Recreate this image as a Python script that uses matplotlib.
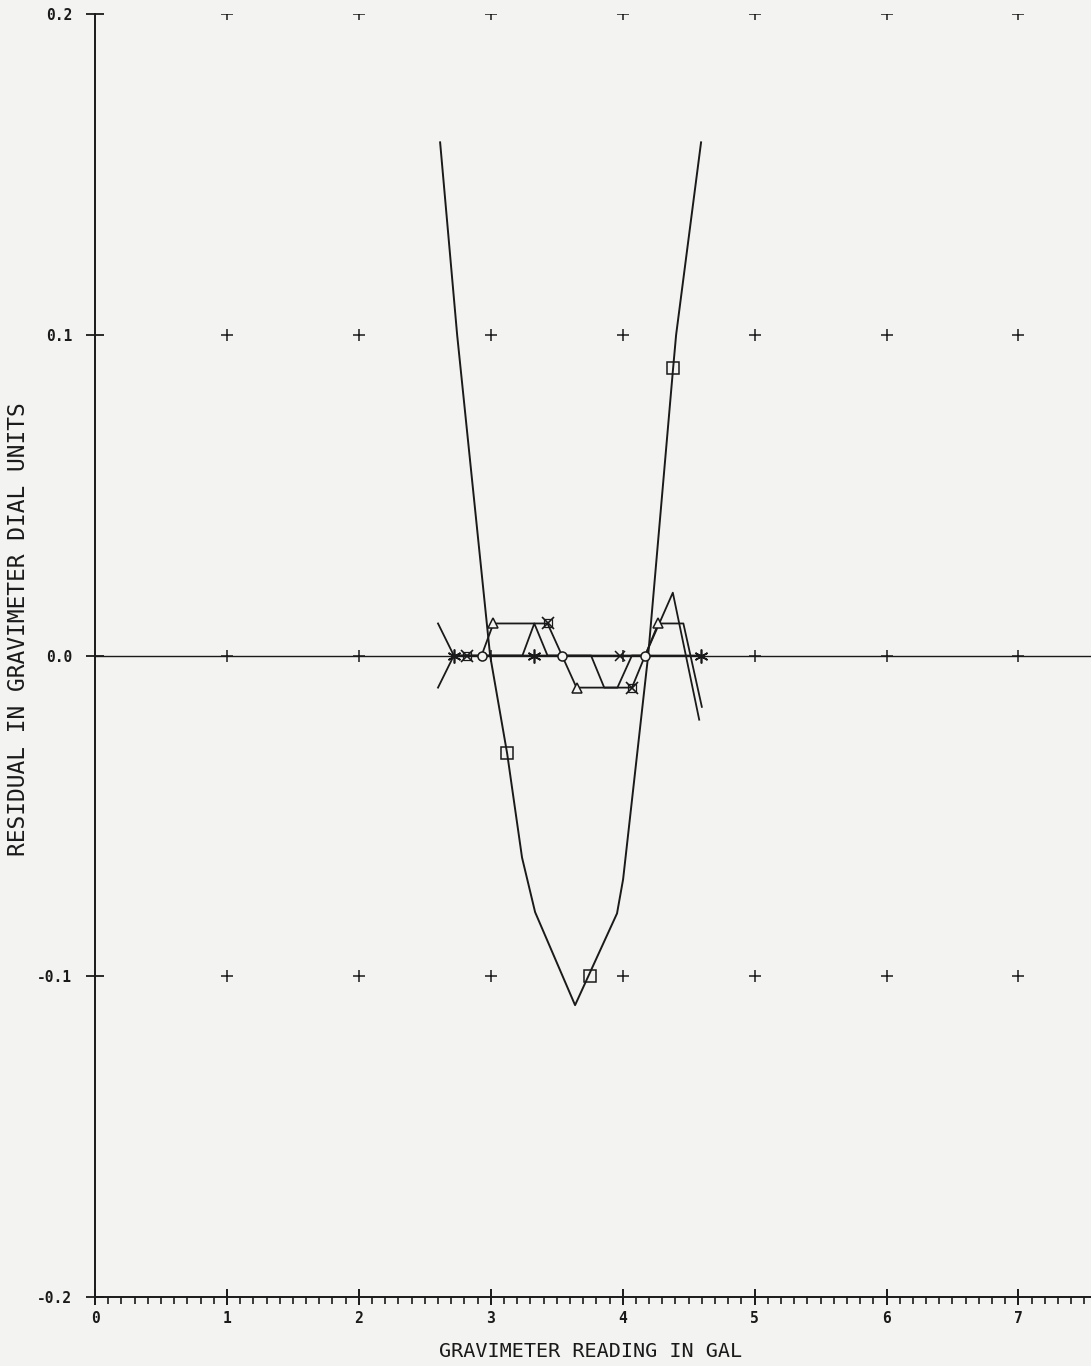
import numpy as np
import matplotlib
matplotlib.use('Agg')
from matplotlib import pyplot as plt

# residual curve (large parabola, square markers)
par_x = [2.616, 2.745, 2.995, 3.124, 3.237, 3.336, 3.639, 3.957, 4.003, 4.193, 4.382, 4.405, 4.594]
par_y = [0.160, 0.100, 0.000, -0.0305, -0.063, -0.080, -0.109, -0.0804, -0.0698, 0.000, 0.0895, 0.100, 0.160]
sq_x = [3.124, 3.753, 4.382]
sq_y = [-0.0305, -0.100, 0.0895]

# small residual series near zero
s1_x = [2.93, 3.02, 3.43, 3.54, 3.65, 4.07, 4.17, 4.27, 4.46, 4.60]
s1_y = [0.0, 0.01, 0.01, 0.0, -0.01, -0.01, 0.0, 0.01, 0.01, -0.016]
s2_x = [2.60, 2.72, 3.24, 3.33, 3.43, 3.76, 3.86, 3.96, 4.07, 4.17, 4.38, 4.58]
s2_y = [0.01, 0.0, 0.0, 0.01, 0.0, 0.0, -0.01, -0.01, 0.0, 0.0, 0.0196, -0.020]
s3_x = [2.60, 2.72, 4.59]
s3_y = [-0.01, 0.0, 0.0]

ast_x = [2.72, 3.33, 4.59]
ast_y = [0.0, 0.0, 0.0]
sqx_x = [2.82, 3.43, 4.07]
sqx_y = [0.0, 0.01, -0.01]
circ_x = [2.93, 3.54, 4.17]
circ_y = [0.0, 0.0, 0.0]
tri_x = [3.02, 3.65, 4.27]
tri_y = [0.01, -0.01, 0.01]
x_x = [3.98]
x_y = [0.0]

grid_x = [1, 2, 3, 4, 5, 6, 7]
grid_y = [0.2, 0.1, 0.0, -0.1]
xticks = [0, 1, 2, 3, 4, 5, 6, 7]
xticklabels = ['0', '1', '2', '3', '4', '5', '6', '7']
yticks = [-0.2, -0.1, 0.0, 0.1, 0.2]
yticklabels = ['-0.2', '-0.1', '0.0', '0.1', '0.2']

ink = '#1a1a1a'
paper = '#f3f3f1'
plt.rcParams['font.family'] = ['DejaVu Sans Mono']

fig = plt.figure(figsize=(10.91, 13.66), dpi=100, facecolor=paper)
ax = fig.add_axes([0.0871, 0.0505, 0.9129, 0.9392])
ax.set_facecolor(paper)
ax.set_xlim(0, 7.55)
ax.set_ylim(-0.2, 0.2)

for s in ['top', 'right']:
    ax.spines[s].set_visible(False)
for s in ['left', 'bottom']:
    ax.spines[s].set_color(ink)
    ax.spines[s].set_linewidth(1.4)

ax.set_xticks(xticks)
ax.set_xticklabels(xticklabels)
ax.xaxis.set_minor_locator(plt.MultipleLocator(0.1))
ax.set_yticks(yticks)
ax.set_yticklabels(yticklabels)
ax.tick_params(axis='x', which='major', direction='inout', length=12, width=1.4,
               color=ink, labelsize=10.5, pad=4, labelcolor=ink)
ax.tick_params(axis='x', which='minor', direction='out', length=5, width=1.2, color=ink)
ax.tick_params(axis='y', which='major', direction='inout', length=13, width=1.3,
               color=ink, labelsize=10.5, pad=10, labelcolor=ink)
for t in ax.get_xticklabels() + ax.get_yticklabels():
    t.set_fontweight('bold')

# zero line and grid crosses
ax.axhline(0, color=ink, lw=1.0, zorder=1)
gx, gy = np.meshgrid(grid_x, grid_y)
ax.plot(gx.ravel(), gy.ravel(), '+', color=ink, ms=9, mew=1.1, zorder=2)

# curves
ax.plot(par_x, par_y, '-', color=ink, lw=1.4, zorder=3)
ax.plot(sq_x, sq_y, 's', color=ink, mfc='none', ms=8, mew=1.1, zorder=4)
for xs, ys in [(s1_x, s1_y), (s2_x, s2_y), (s3_x, s3_y)]:
    ax.plot(xs, ys, '-', color=ink, lw=1.3, zorder=3)

ax.plot(ast_x, ast_y, ls='none', marker=(6, 2, 0), color=ink, ms=10, mew=1.2, zorder=4)
ax.plot(sqx_x, sqx_y, 'x', color=ink, ms=9, mew=1.2, zorder=4)
ax.plot(sqx_x, sqx_y, 's', color=ink, mfc='none', ms=5.5, mew=0.9, zorder=4)
ax.plot(circ_x, circ_y, 'o', color=ink, mfc=paper, ms=6.5, mew=1.1, zorder=4)
ax.plot(tri_x, tri_y, '^', color=ink, mfc=paper, ms=7, mew=1.1, zorder=4)
ax.plot(x_x, x_y, 'x', color=ink, ms=7, mew=1.1, zorder=4)

fig.text(0.541, 0.0105, 'GRAVIMETER READING IN GAL', ha='center', va='center',
         fontsize=14.5, color=ink)
fig.text(0.0165, 0.5395, 'RESIDUAL IN GRAVIMETER DIAL UNITS', ha='center', va='center',
         rotation=90, fontsize=16.5, color=ink)

plt.savefig('out.png', dpi=100, facecolor=paper)
